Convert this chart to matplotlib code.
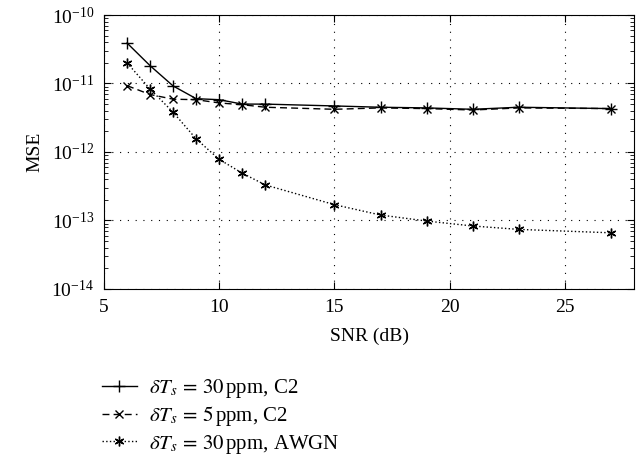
import numpy as np
import matplotlib.pyplot as plt

plt.rcParams['font.family'] = ['Liberation Serif', 'DejaVu Serif']
plt.rcParams['mathtext.fontset'] = 'stix'

snr = [6, 7, 8, 9, 10, 11, 12, 15, 17, 19, 21, 23, 27]
mse_30_c2 = [3.9e-11, 1.82e-11, 9.2e-12, 6.0e-12, 5.8e-12, 5.0e-12, 5.0e-12,
             4.7e-12, 4.5e-12, 4.4e-12, 4.2e-12, 4.5e-12, 4.3e-12]
mse_5_c2 = [9.3e-12, 6.9e-12, 5.9e-12, 5.8e-12, 5.2e-12, 4.9e-12, 4.5e-12,
            4.2e-12, 4.4e-12, 4.3e-12, 4.1e-12, 4.4e-12, 4.3e-12]
mse_30_awgn = [2.0e-11, 8.3e-12, 3.8e-12, 1.55e-12, 7.8e-13, 4.9e-13, 3.3e-13,
               1.7e-13, 1.2e-13, 9.8e-14, 8.3e-14, 7.4e-14, 6.6e-14]
labels = [r'$\delta T_s\,=\,30\,$ppm, C2',
          r'$\delta T_s\,=\,5\,$ppm, C2',
          r'$\delta T_s\,=\,30\,$ppm, AWGN']

fig = plt.figure(figsize=(6.44, 4.55), dpi=100)
ax = fig.add_axes([0.1615, 0.365, 0.823, 0.602])

l1, = ax.semilogy(snr, mse_30_c2, 'k-', marker='+', ms=8, lw=1)
l2, = ax.semilogy(snr, mse_5_c2, 'k', ls=(0, (5, 3)), marker='x', ms=6, lw=1)
l3, = ax.semilogy(snr, mse_30_awgn, 'k:', marker=(6, 2, 0), ms=7, lw=1)

ax.set_xlim(5, 28)
ax.set_ylim(1e-14, 1e-10)
ax.set_xticks([5, 10, 15, 20, 25])
ax.set_yticks([1e-14, 1e-13, 1e-12, 1e-11, 1e-10])
ax.grid(True, which='major', color='k', linestyle=(0, (1, 6)), lw=0.8)
ax.tick_params(which='both', direction='in', top=True, right=True, labelsize=14, pad=7)
ax.tick_params(which='major', length=5)
ax.tick_params(which='minor', length=3)
ax.set_xlabel('SNR (dB)', fontsize=14, labelpad=9)
ax.set_ylabel('MSE', fontsize=14, labelpad=6)

fig.legend([l1, l2, l3], labels, loc='upper left', bbox_to_anchor=(0.158, 0.171),
           frameon=False, fontsize=15, handlelength=1.7, labelspacing=0.2,
           handletextpad=0.55, borderpad=0, borderaxespad=0)

fig.savefig('out.png', dpi=100)
